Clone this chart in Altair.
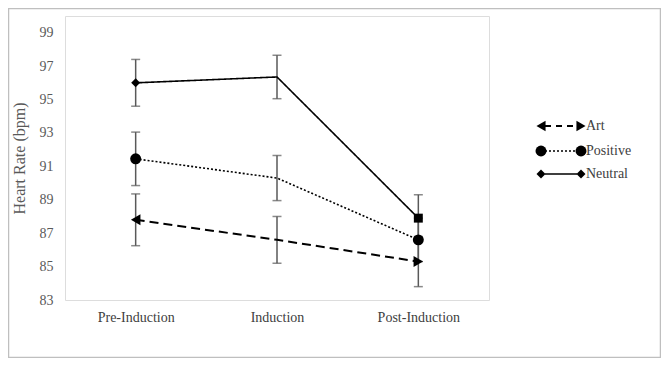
import altair as alt
import pandas as pd

categories = ["Pre-Induction", "Induction", "Post-Induction"]
series_names = ["Art", "Positive", "Neutral"]

art = [87.8, 86.6, 85.3]
art_err = [1.55, 1.4, 1.5]
art_markers = ["triangle-left", None, "triangle-right"]

positive = [91.45, 90.3, 86.6]
positive_err = [1.6, 1.35, 1.3]
positive_markers = ["circle", None, "circle"]

neutral = [96.0, 96.35, 87.9]
neutral_err = [1.4, 1.3, 1.4]
neutral_markers = ["diamond", None, "square"]

y_ticks = [83, 85, 87, 89, 91, 93, 95, 97, 99]

rows = []
for name, vals, errs, marks in [
    ("Art", art, art_err, art_markers),
    ("Positive", positive, positive_err, positive_markers),
    ("Neutral", neutral, neutral_err, neutral_markers),
]:
    for c, v, e, m in zip(categories, vals, errs, marks):
        rows.append(dict(series=name, phase=c, hr=v, lo=v - e, hi=v + e, marker=m))
df = pd.DataFrame(rows)

FONT = "Liberation Serif"
GRAY = "#595959"

xenc = alt.X(
    "phase:N",
    sort=categories,
    scale=alt.Scale(type="point", padding=0.5),
    axis=alt.Axis(
        title=None, labelAngle=0, domain=False, ticks=False, grid=False,
        labelFont=FONT, labelFontSize=14, labelColor="#404040", labelPadding=10,
    ),
)
yscale = alt.Scale(domain=[83, 100], nice=False, zero=False)
yaxis = alt.Axis(
    values=y_ticks, domain=False, ticks=False, grid=False, labelOverlap=False,
    labelFont=FONT, labelFontSize=14, labelColor=GRAY, labelPadding=12,
    title="Heart Rate (bpm)", titleFont=FONT, titleFontSize=16,
    titleFontWeight="normal", titleColor=GRAY, titlePadding=12,
)


def yenc(field):
    return alt.Y(field, scale=yscale, axis=yaxis)


base = alt.Chart(df)

err_rule = base.mark_rule(color=GRAY, strokeWidth=1.5).encode(
    x=xenc, y=yenc("lo:Q"), y2="hi:Q"
)
cap_lo = base.mark_tick(color=GRAY, size=9, thickness=1.5).encode(
    x=xenc, y=yenc("lo:Q")
)
cap_hi = base.mark_tick(color=GRAY, size=9, thickness=1.5).encode(
    x=xenc, y=yenc("hi:Q")
)


def series_line(name, dash, width):
    return base.transform_filter(alt.datum.series == name).mark_line(
        color="black", strokeDash=dash, strokeWidth=width
    ).encode(x=xenc, y=yenc("hr:Q"))


def series_points(name, size):
    return base.transform_filter(
        (alt.datum.series == name) & alt.expr.isValid(alt.datum.marker)
    ).mark_point(filled=True, color="black", opacity=1, size=size).encode(
        x=xenc, y=yenc("hr:Q"),
        shape=alt.Shape("marker:N", scale=None),
    )


line_art = series_line("Art", [9, 5], 2)
line_pos = series_line("Positive", [2, 2], 1.6)
line_neu = series_line("Neutral", [1, 0], 1.6)

pts_art = series_points("Art", 120)
pts_pos = series_points("Positive", 120)
pts_neu = series_points("Neutral", 80)

# outer border
border = alt.Chart(pd.DataFrame({"a": [0]})).mark_rect(
    fill="transparent", stroke="#bfbfbf", strokeWidth=1.5
).encode(
    x=alt.value(-56.5), x2=alt.value(595.5), y=alt.value(-7.5), y2=alt.value(341.5)
)

# custom legend
leg_x0, leg_x1, leg_tx = 476, 516, 521
leg_ys = [110, 135, 158]
leg_style = {
    "Art": ([6, 5], 2, "triangle-left", "triangle-right", 110),
    "Positive": ([2, 2], 1.6, "circle", "circle", 120),
    "Neutral": ([1, 0], 1.6, "diamond", "diamond", 80),
}
legend_layers = []
one = pd.DataFrame({"a": [0]})
for name, ly in zip(series_names, leg_ys):
    dash, w, s0, s1, sz = leg_style[name]
    legend_layers.append(
        alt.Chart(one).mark_rule(color="black", strokeDash=dash, strokeWidth=w).encode(
            x=alt.value(leg_x0 + 4), x2=alt.value(leg_x1 - 4), y=alt.value(ly)
        )
    )
    legend_layers.append(
        alt.Chart(one).mark_point(filled=True, color="black", opacity=1, size=sz, shape=s0).encode(
            x=alt.value(leg_x0), y=alt.value(ly)
        )
    )
    legend_layers.append(
        alt.Chart(one).mark_point(filled=True, color="black", opacity=1, size=sz, shape=s1).encode(
            x=alt.value(leg_x1), y=alt.value(ly)
        )
    )
    legend_layers.append(
        alt.Chart(pd.DataFrame({"t": [name]})).mark_text(
            align="left", baseline="middle", font=FONT, fontSize=14, color="#404040"
        ).encode(x=alt.value(leg_tx), y=alt.value(ly), text="t:N")
    )

chart = alt.layer(
    border, err_rule, cap_lo, cap_hi,
    line_art, line_pos, line_neu,
    pts_art, pts_pos, pts_neu,
    *legend_layers,
).properties(
    width=424, height=284,
    padding={"left": 57, "top": 8, "right": 172, "bottom": 58},
    autosize=alt.AutoSizeParams(type="none"),
).configure_view(
    stroke="#bfbfbf", strokeWidth=1.5
).configure(background="white")

chart.save("out.html", embed_options={"renderer": "svg", "actions": False})
